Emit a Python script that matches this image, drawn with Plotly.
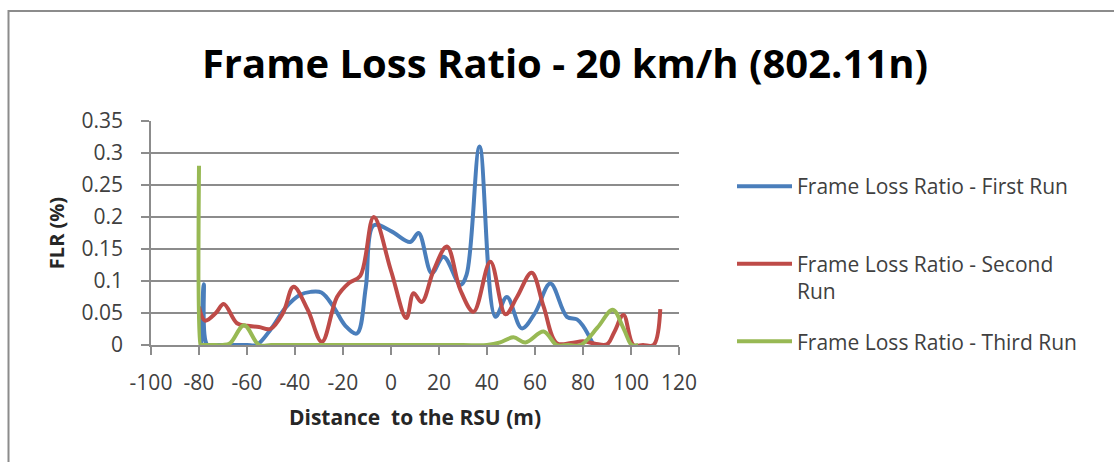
import plotly.graph_objects as go

# Distance to the RSU (m) and frame loss ratio for each run
first_x = [-79, -78, -76.5, -72, -66, -60, -56, -50, -44, -38, -33.5, -29, -24, -19, -14.2,
           -10.5, -7.2, 0, 8, 11.5, 17, 21.9, 28.9, 31.5, 36.9, 43.5, 48.3, 54.5, 60, 66.4,
           73.3, 77.5, 80, 84.4]
first_y = [0.0, 0.095, 0.0, 0.0, 0.0, 0.0, 0.0, 0.025, 0.058, 0.078, 0.083, 0.082, 0.06, 0.03,
           0.018, 0.09, 0.187, 0.178, 0.161, 0.175, 0.112, 0.138, 0.094, 0.11, 0.31, 0.044,
           0.075, 0.026, 0.05, 0.096, 0.044, 0.04, 0.03, 0.0]

second_x = [-80, -77.5, -73, -69.7, -64.2, -60, -55, -50.3, -45, -40.6, -34.7, -28.8, -22.5,
            -17.5, -12.8, -7.2, 0, 6.4, 9.4, 12.8, 17.8, 23.3, 28.9, 34.4, 41.4, 47.7, 52.5,
            58.6, 63.6, 69, 75, 80, 85, 90, 93, 96.9, 101, 105, 109.4, 112.2]
second_y = [0.06, 0.038, 0.05, 0.064, 0.034, 0.03, 0.028, 0.025, 0.05, 0.091, 0.055, 0.005,
            0.075, 0.097, 0.108, 0.2, 0.116, 0.042, 0.081, 0.067, 0.117, 0.154, 0.086, 0.052,
            0.13, 0.048, 0.075, 0.113, 0.06, 0.003, 0.003, 0.006, 0.002, 0.001, 0.02, 0.047,
            0.0, 0.0, 0.0, 0.056]

third_x = [-80, -79.4, -79.2, -75, -70, -67, -61.2, -55, -50, -40, -30, -20, -10, 0, 10, 20,
           30, 40, 45.5, 51, 56, 63.6, 69, 74, 79, 86, 92.4, 97, 100.3, 103]
third_y = [0.28, 0.0, 0.0, 0.0, 0.0, 0.003, 0.031, 0.0, 0.0, 0, 0, 0, 0, 0, 0, 0, 0, 0.0,
           0.004, 0.012, 0.004, 0.021, 0.0, 0.0, 0.0, 0.027, 0.055, 0.025, 0.0, 0.0]

x_tick_vals = [-100, -80, -60, -40, -20, 0, 20, 40, 60, 80, 100, 120]
x_tick_text = ["-100", "-80", "-60", "-40", "-20", "0", "20", "40", "60", "80", "100", "120"]
y_tick_vals = [0, 0.05, 0.1, 0.15, 0.2, 0.25, 0.3, 0.35]
y_tick_text = ["0", "0.05", "0.1", "0.15", "0.2", "0.25", "0.3", "0.35"]

# legend entries all get two text rows so each slot has the same height
series = [
    ("Frame Loss Ratio - First Run<br> ", first_x, first_y, "#4A7EBB"),
    ("Frame Loss Ratio - Second<br>Run", second_x, second_y, "#BE4B48"),
    ("Frame Loss Ratio - Third Run<br> ", third_x, third_y, "#98B954"),
]

W, H = 1114, 462
ML, MR, MT, MB = 151, 435, 121, 117
PW, PH = W - ML - MR, H - MT - MB

font = "Open Sans"
tick_color = "#404040"
fig = go.Figure()
for i, (name, xs, ys, color) in enumerate(series):
    fig.add_trace(go.Scatter(
        x=xs, y=ys, name=name, mode="lines",
        line=dict(color=color, width=4, shape="spline", smoothing=1),
        legendgroup=f"g{i}",
    ))


def px_x(p):
    return (p - ML) / PW


def px_y(p):
    return (H - MB - p) / PH


# outer frame: left and top edges
fig.add_shape(type="path", xref="paper", yref="paper",
              path=f"M {px_x(8.5)} {px_y(462)} L {px_x(8.5)} {px_y(11)} L {px_x(1114)} {px_y(11)}",
              line=dict(color="#8C8C8C", width=2))

fig.update_layout(
    width=W, height=H,
    margin=dict(l=ML, r=MR, t=MT, b=MB),
    paper_bgcolor="white", plot_bgcolor="white",
    font=dict(family=font, size=21, color=tick_color),
    title=dict(text="<b>Frame Loss Ratio - 20 km/h (802.11n)</b>",
               font=dict(family=font, size=40, color="black"),
               x=px_x(565), xref="paper", xanchor="center",
               y=1 - 64 / H, yref="container", yanchor="middle"),
    showlegend=True,
    legend=dict(x=px_x(732), xanchor="left", y=px_y(166), yanchor="top",
                font=dict(family=font, size=21, color=tick_color),
                tracegroupgap=20, itemwidth=55, valign="top",
                bgcolor="rgba(0,0,0,0)"),
    xaxis=dict(range=[-100, 120], tickvals=x_tick_vals, ticktext=x_tick_text,
               showgrid=False, zeroline=False,
               showline=True, linecolor="#8C8C8C", linewidth=1.5,
               ticks="outside", ticklen=8, tickcolor="#8C8C8C", tickwidth=1.5,
               ticklabelstandoff=10,
               tickfont=dict(family=font, size=21, color=tick_color),
               title=dict(text="<b>Distance  to the RSU (m)</b>", standoff=15,
                          font=dict(family=font, size=21, color="#262626"))),
    yaxis=dict(range=[0, 0.35], tickvals=y_tick_vals, ticktext=y_tick_text,
               showgrid=True, gridcolor="#8C8C8C", gridwidth=1.5, zeroline=False,
               showline=True, linecolor="#8C8C8C", linewidth=1.5,
               ticks="outside", ticklen=8, tickcolor="#8C8C8C", tickwidth=1.5,
               ticklabelstandoff=14,
               tickfont=dict(family=font, size=21, color=tick_color),
               title=dict(text="<b>FLR (%)</b>", standoff=12,
                          font=dict(family=font, size=20, color="#262626"))),
)

fig.write_html("out.html")
